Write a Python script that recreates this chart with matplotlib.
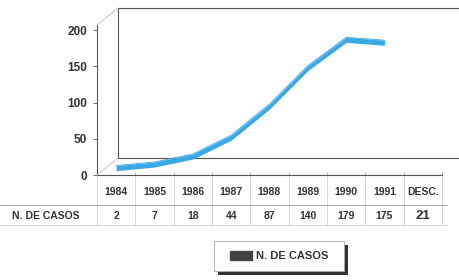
import matplotlib
matplotlib.use('Agg')
import matplotlib.pyplot as plt
import matplotlib.transforms as mtransforms
from matplotlib.lines import Line2D
from matplotlib.patches import Patch, Rectangle

plt.rcParams['font.family'] = ['Liberation Sans', 'DejaVu Sans']

# data
years = ['1984', '1985', '1986', '1987', '1988', '1989', '1990', '1991', 'DESC.']
casos = [2, 7, 18, 44, 87, 140, 179, 175, 21]
n_line = 8  # the DESC. column is only in the table, not on the line
series_label = 'N. DE CASOS'

W, H = 460, 280
fig = plt.figure(figsize=(W / 100, H / 100), dpi=100)
ax = fig.add_axes([97 / W, 1 - 175 / H, (442 - 97) / W, (175 - 25) / H])
ax.set_xlim(-0.5, len(years) - 0.5)
ax.set_ylim(0, 207)

text_c = '#333333'
grid_c = '#9a9a9a'
blue = '#3aa8e4'

# 3d looking back wall, shifted up/right from the front axes
shift = mtransforms.ScaledTranslation(21 / 100, 17 / 100, fig.dpi_scale_trans)
back = ax.transAxes + shift
ax.plot([0, 0, 1.1], [0, 1, 1], transform=back, color='#555555', lw=0.8, clip_on=False)
ax.plot([0, 1.1], [0, 0], transform=back, color='#555555', lw=0.8, clip_on=False)
for yy in (0, 1):
    p0 = ax.transAxes.transform((0, yy))
    p1 = back.transform((0, yy))
    fig.add_artist(Line2D([p0[0] / W, p1[0] / W], [p0[1] / H, p1[1] / H],
                          color='#bbbbbb', lw=0.6))

# the ribbon line
x = list(range(n_line))
y = [v + 4 for v in casos[:n_line]]
top = [v + 7 for v in y]
ax.fill_between(x, y, top, color=blue, lw=0, clip_on=False, zorder=3)
ax.plot(x, top, color=blue, lw=0.6, clip_on=False, zorder=3)

for s in ['top', 'right']:
    ax.spines[s].set_visible(False)
ax.spines['left'].set_color('#555555')
ax.spines['bottom'].set_color('#555555')
ax.spines['left'].set_linewidth(0.8)
ax.spines['bottom'].set_linewidth(0.8)
ax.set_yticks([0, 50, 100, 150, 200])
ax.tick_params(axis='y', length=3, width=0.6, colors='#555555', labelcolor=text_c,
               labelsize=8.5, pad=4)
ax.set_xticks([i - 0.5 for i in range(len(years) + 1)])
ax.set_xticklabels([])
ax.tick_params(axis='x', length=2, width=0.5, colors=grid_c, direction='in')
for lab in ax.get_yticklabels():
    lab.set_fontweight('bold')

# data table below the axis
tr = mtransforms.blended_transform_factory(ax.transData, fig.transFigure)
y_head = 1 - 192 / H
y_val = 1 - 216 / H
for i, (yr, v) in enumerate(zip(years, casos)):
    ax.text(i, y_head, yr, transform=tr, ha='center', va='center', fontsize=7.5,
            fontweight='bold', color=text_c)
    big = yr == 'DESC.'
    ax.text(i, y_val, str(v), transform=tr, ha='center', va='center',
            fontsize=9.5 if big else 7.5, fontweight='bold', color=text_c)
fig.text(12 / W, y_val, series_label, ha='left', va='center', fontsize=7.5,
         fontweight='bold', color=text_c)

fig.add_artist(Line2D([0, 447 / W], [1 - 205 / H] * 2, color=grid_c, lw=0.6))
fig.add_artist(Line2D([0, 447 / W], [1 - 225 / H] * 2, color='#cccccc', lw=0.6))
for i in range(len(years) + 1):
    ax.plot([i - 0.5, i - 0.5], [1 - 176 / H, 1 - 225 / H], transform=tr,
            color='#c8c8c8', lw=0.5, clip_on=False)

# legend box with a dark drop shadow
bx, by, bw, bh = 214 / W, 1 - 271 / H, 130 / W, 30 / H
fig.add_artist(Rectangle((bx + 4 / W, by - 4 / H), bw, bh, transform=fig.transFigure,
                         facecolor='#333333', edgecolor='none', zorder=4))
fig.add_artist(Rectangle((bx, by), bw, bh, transform=fig.transFigure,
                         facecolor='white', edgecolor='#aaaaaa', lw=0.6, zorder=5))
leg = fig.legend(handles=[Patch(facecolor='#444444', edgecolor='#444444', label=series_label)],
                 loc='center', bbox_to_anchor=(bx + bw / 2, by + bh / 2), fontsize=8,
                 frameon=False, handlelength=2.0, handleheight=0.9, handletextpad=0.3)
leg.set_zorder(6)
for t in leg.get_texts():
    t.set_fontweight('bold')
    t.set_color(text_c)

fig.savefig('out.png', dpi=100)
